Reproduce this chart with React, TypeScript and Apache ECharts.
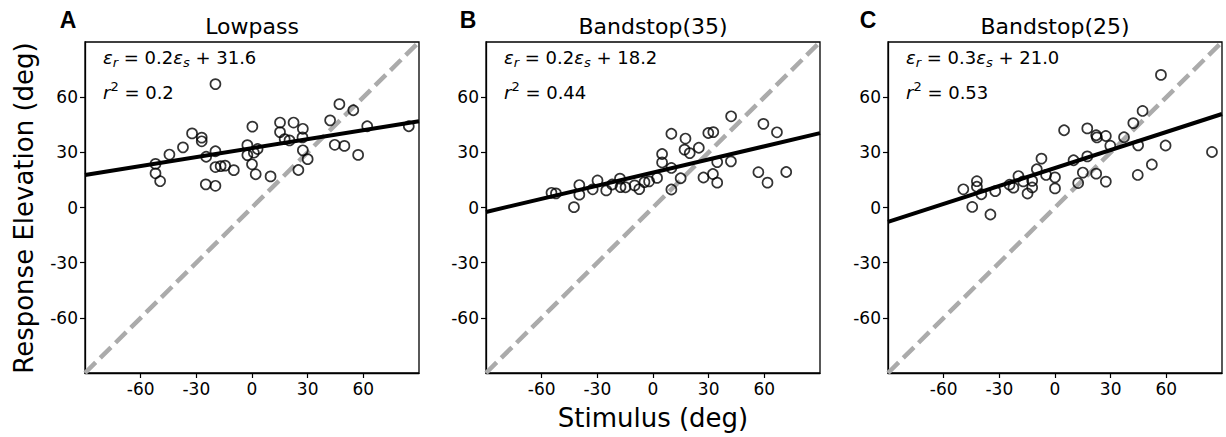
import React, { useEffect, useRef } from "react";
import * as echarts from "echarts";

// ---------- data ----------
const panelTitles = ["Lowpass", "Bandstop(35)", "Bandstop(25)"];
const panelLetters = ["A", "B", "C"];
const tickValues = [-60, -30, 0, 30, 60];
const axisRange = [-90, 90];

const lowpassPts: number[][] = [
  [-52, 23.7], [-52, 18.6], [-49.5, 14.3], [-44.5, 28.8], [-37.2, 32.7], [-32.3, 40.3],
  [-27.1, 38], [-27.1, 36], [-24.7, 27.6], [-24.9, 12.6], [-19.7, 11.8], [-19.7, 30.6],
  [-19.7, 22], [-16.9, 22.5], [-14.5, 22.8], [-9.8, 20.3], [-19.7, 67.1], [-2.5, 33.9],
  [-2.5, 28.5], [0.2, 44], [0, 23.5], [2, 18.1], [1, 29.8], [3, 31.8], [10, 16.9],
  [15.1, 46.2], [15.1, 41], [17.6, 37.2], [20.2, 36.5], [22.4, 46.2], [27.4, 42.8],
  [27.2, 38.1], [27.4, 31.1], [30, 26.3], [25, 20.4], [42.1, 47.4], [44.6, 34.1],
  [47.1, 56.2], [49.8, 33.5], [54.6, 52.9], [57.2, 28.6], [62.1, 44.2], [84.5, 44.2],
];

const bandstop35Pts: number[][] = [
  [-54.7, 8.0], [-52.3, 7.7], [-42.6, 0.2], [-39.7, 12.2], [-39.7, 7.0], [-32.5, 9.9],
  [-29.9, 14.7], [-25.2, 9.3], [-22, 12.5], [-17.8, 15.7], [-17.5, 11.1], [-14.8, 11.0],
  [-9.9, 12.0], [-7.4, 10.0], [-4.6, 13.8], [-2.1, 14.2], [2.2, 16.1], [4.9, 29.1],
  [4.9, 24.5], [9.9, 40.1], [9.9, 21.5], [9.9, 9.8], [14.9, 15.9], [17.5, 37.5],
  [17, 31.5], [19.8, 29.6], [24.7, 32.5], [29.8, 40.5], [32.5, 41.0], [27.2, 16.3],
  [32.3, 18.2], [34.6, 24.7], [34.6, 13.5], [42.1, 49.6], [42.0, 25.1], [59.5, 45.5],
  [56.8, 19.2], [61.7, 13.5], [66.8, 40.9], [71.8, 19.3],
];

const bandstop25Pts: number[][] = [
  [-49.4, 9.9], [-44.6, 0.3], [-42.1, 14.3], [-42.1, 11.3], [-39.7, 7.2], [-34.8, -3.8],
  [-32.2, 8.9], [-24.5, 12.4], [-22.4, 10.8], [-19.7, 17.1], [-17.1, 14.2], [-14.8, 7.6],
  [-12.3, 14.5], [-12.3, 10.9], [-9.8, 20.8], [-7.3, 26.6], [-4.8, 17.7], [0, 16.4],
  [0, 10.4], [4.9, 42.0], [10.0, 25.7], [12.5, 13.3], [15.0, 19.0], [17.4, 43.0],
  [17.4, 27.8], [22.2, 39.3], [22.6, 38.1], [22.2, 18.4], [27.4, 38.9], [27.4, 14.1],
  [29.8, 33.6], [37.2, 38.2], [42.2, 45.9], [44.8, 33.8], [44.6, 17.7], [47.2, 52.5],
  [52.2, 23.4], [57.1, 72.1], [59.6, 33.7], [84.6, 30.2],
];

// regression lines: [slope, intercept]
const fitLowpass = [0.162, 32.3];
const fitBandstop35 = [0.238, 19.0];
const fitBandstop25 = [0.326, 21.5];

// annotation texts
const eqSlopes = ["0.2", "0.2", "0.3"];
const eqIntercepts = ["31.6", "18.2", "21.0"];
const rSquared = ["0.2", "0.44", "0.53"];

const xAxisName = "Stimulus (deg)";
const yAxisName = "Response Elevation (deg)";

const FONT = "DejaVu Sans";

export default function App() {
  const ref = useRef<HTMLDivElement>(null);

  useEffect(() => {
    document.body.style.margin = "0";
    if (!ref.current) return;
    const chart = echarts.init(ref.current, undefined, { renderer: "svg" });

    const allPts = [lowpassPts, bandstop35Pts, bandstop25Pts];
    const fits = [fitLowpass, fitBandstop35, fitBandstop25];
    const gridLefts = [85, 486, 888];
    const gridTop = 42;
    const gridW = 334;
    const gridH = 331;

    const grids = gridLefts.map((l) => ({
      left: l,
      top: gridTop,
      width: gridW,
      height: gridH,
      show: true,
      borderColor: "#000",
      borderWidth: 1.3,
      backgroundColor: "transparent",
    }));

    const axisCommon = {
      type: "value" as const,
      min: axisRange[0],
      max: axisRange[1],
      interval: 30,
      splitLine: { show: false },
      axisLine: { show: true, onZero: false, lineStyle: { color: "#000", width: 1.3 } },
      axisTick: {
        show: true,
        inside: false,
        length: 5,
        customValues: tickValues,
        lineStyle: { color: "#000", width: 1.2 },
      },
    };

    const xAxes = gridLefts.map((_, i) => ({
      ...axisCommon,
      gridIndex: i,
      position: "bottom",
      axisLabel: {
        customValues: tickValues,
        fontSize: 17,
        color: "#000",
        fontFamily: FONT,
        margin: 7,
      },
    }));
    const yAxes = gridLefts.map((_, i) => ({
      ...axisCommon,
      gridIndex: i,
      position: "left",
      axisLabel: {
        customValues: tickValues,
        fontSize: 17,
        color: "#000",
        fontFamily: FONT,
        margin: 7,
      },
    }));

    const series: any[] = [];
    allPts.forEach((pts, i) => {
      series.push({
        type: "line",
        xAxisIndex: i,
        yAxisIndex: i,
        data: [
          [axisRange[0], axisRange[0]],
          [axisRange[1], axisRange[1]],
        ],
        symbol: "none",
        lineStyle: { color: "#ababab", width: 4.5, type: [15, 6.5] },
        z: 2,
        silent: true,
      });
      series.push({
        type: "scatter",
        xAxisIndex: i,
        yAxisIndex: i,
        data: pts,
        symbol: "circle",
        symbolSize: 10,
        itemStyle: { color: "rgba(0,0,0,0)", borderColor: "#000", borderWidth: 1.7 },
        z: 3,
      });
      const [a, b] = fits[i];
      series.push({
        type: "line",
        xAxisIndex: i,
        yAxisIndex: i,
        data: [
          [axisRange[0], a * axisRange[0] + b],
          [axisRange[1], a * axisRange[1] + b],
        ],
        symbol: "none",
        lineStyle: { color: "#000", width: 4 },
        z: 4,
        silent: true,
      });
    });

    const richStyles = {
      n: { fontSize: 18, fontFamily: FONT, color: "#000", lineHeight: 24 },
      it: { fontSize: 18, fontFamily: FONT, fontStyle: "italic", color: "#000", lineHeight: 24 },
      sub: {
        fontSize: 13,
        fontFamily: FONT,
        fontStyle: "italic",
        color: "#000",
        verticalAlign: "bottom",
        lineHeight: 10,
      },
      sup: { fontSize: 13, fontFamily: FONT, color: "#000", verticalAlign: "top", lineHeight: 12 },
    };

    const graphics: any[] = [];
    gridLefts.forEach((l, i) => {
      const centerX = l + gridW / 2;
      const letterX = [68, 468, 868][i];
      graphics.push({
        type: "text",
        x: letterX,
        y: 20,
        style: {
          text: panelLetters[i],
          fontSize: 23,
          fontWeight: "bold",
          fontFamily: "Liberation Sans",
          fill: "#000",
          align: "center",
          verticalAlign: "middle",
        },
      });
      graphics.push({
        type: "text",
        x: centerX,
        y: 26,
        style: {
          text: panelTitles[i],
          fontSize: 22,
          fontFamily: FONT,
          fill: "#000",
          align: "center",
          verticalAlign: "middle",
        },
      });
      graphics.push({
        type: "text",
        x: l + 18,
        y: 57,
        style: {
          text: `{it|ε}{sub|r}{n| = ${eqSlopes[i]}}{it|ε}{sub|s}{n| + ${eqIntercepts[i]}}`,
          rich: richStyles,
          align: "left",
          verticalAlign: "middle",
        },
      });
      graphics.push({
        type: "text",
        x: l + 18,
        y: 92,
        style: {
          text: `{it|r}{sup|2}{n| = ${rSquared[i]}}`,
          rich: richStyles,
          align: "left",
          verticalAlign: "middle",
        },
      });
    });
    graphics.push({
      type: "text",
      x: 24,
      y: 208,
      rotation: Math.PI / 2,
      style: {
        text: yAxisName,
        fontSize: 26,
        fontFamily: FONT,
        fill: "#000",
        align: "center",
        verticalAlign: "middle",
      },
    });
    graphics.push({
      type: "text",
      x: 653,
      y: 418,
      style: {
        text: xAxisName,
        fontSize: 26,
        fontFamily: FONT,
        fill: "#000",
        align: "center",
        verticalAlign: "middle",
      },
    });

    chart.setOption({
      animation: false,
      backgroundColor: "#fff",
      grid: grids,
      xAxis: xAxes,
      yAxis: yAxes,
      series,
      graphic: graphics,
    });

    return () => chart.dispose();
  }, []);

  return <div ref={ref} style={{ width: 1226, height: 437 }} />;
}
